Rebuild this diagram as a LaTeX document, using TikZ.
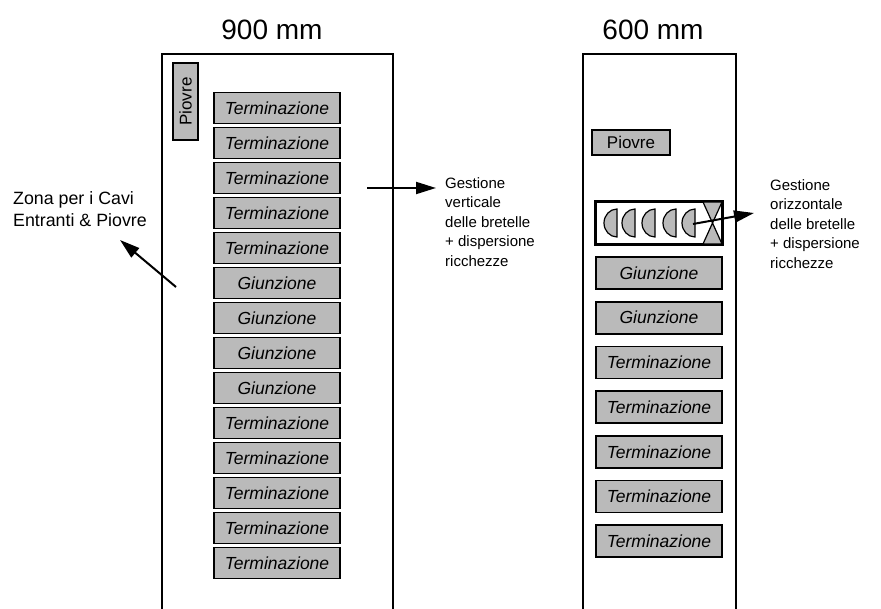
\documentclass[tikz,border=0pt]{standalone}
\usepackage{fontspec}
\setmainfont{Liberation Sans}
\usetikzlibrary{arrows.meta}
\begin{document}
\begin{tikzpicture}[x=1pt,y=-1pt,
  frame/.style={line width=2.8pt},
  unit/.style={draw, line width=1.7pt, fill=black!27, minimum width=126pt, minimum height=31pt, inner sep=0pt, font=\fontsize{17.5}{18}\selectfont\itshape},
  plain/.style={font=\fontsize{17}{18}\selectfont},
  title/.style={inner sep=0pt, font=\fontsize{28}{30}\selectfont},
  lbl/.style={align=left, anchor=north west, inner sep=0pt, font=\fontsize{15}{19.5}\selectfont},
  disc/.style={draw, line width=1.2pt, fill=black!27},
  arr/.style={line width=2pt, -{Triangle[length=20pt,width=12pt]}},
]
\useasboundingbox (0,0) rectangle (881,609);

% ---------- left cabinet (900 mm)
\node[title] (t900) at (272,30) {900 mm};
\draw[frame] (162,609) -- (162,54) -- (393,54) -- (393,609);
\node[unit, plain, rotate=90, minimum width=77pt, minimum height=25pt] (pv) at (185.5,101.5) {Piovre};
\foreach \lab [count=\i from 0] in {Terminazione,Terminazione,Terminazione,Terminazione,Terminazione,Giunzione,Giunzione,Giunzione,Giunzione,Terminazione,Terminazione,Terminazione,Terminazione,Terminazione}
  \node[unit] (L\i) at (277,{108+35*\i}) {\lab};

% ---------- right cabinet (600 mm)
\node[title] (t600) at (653,30) {600 mm};
\draw[frame] (583,609) -- (583,54) -- (736,54) -- (736,609);
\node[unit, plain, minimum width=78pt, minimum height=25pt] (ph) at (631,142.5) {Piovre};
\node[draw, line width=1.7pt, fill=white, minimum width=126pt, minimum height=42pt, inner sep=0pt] (cas) at (659,223) {};
\foreach \x in {617,635,655,676,695}
  \filldraw[disc] (\x,209) arc[start angle=270, end angle=90, x radius=13, y radius=14] -- cycle;
\filldraw[disc] (703,202) -- (722,202) -- (712.5,223) -- cycle;
\filldraw[disc] (712.5,223) -- (722,244) -- (703,244) -- cycle;
\draw[line width=1.7pt] (cas.north west) rectangle (cas.south east);
\foreach \lab [count=\i from 0] in {Giunzione,Giunzione,Terminazione,Terminazione,Terminazione,Terminazione,Terminazione}
  \node[unit, minimum height=32pt] (R\i) at (659,{273+44.7*\i}) {\lab};

% ---------- arrows
\coordinate (la1) at (176,287); \coordinate (la2) at (120,240);
\draw[arr] (la1) -- (la2);
\coordinate (ma1) at (367,188); \coordinate (ma2) at (436,188);
\draw[arr] (ma1) -- (ma2);
\coordinate (ra1) at (693,224); \coordinate (ra2) at (754,213);
\draw[arr] (ra1) -- (ra2);

% ---------- labels
\node[lbl, font=\fontsize{17.8}{22}\selectfont] (ltxt) at (13,191) {Zona per i Cavi\\Entranti \& Piovre};
\node[lbl] (mtxt) at (445,177) {Gestione\\verticale\\delle bretelle\\+ dispersione\\ricchezze};
\node[lbl] (rtxt) at (770,179) {Gestione\\orizzontale\\delle bretelle\\+ dispersione\\ricchezze};
\end{tikzpicture}
\end{document}
